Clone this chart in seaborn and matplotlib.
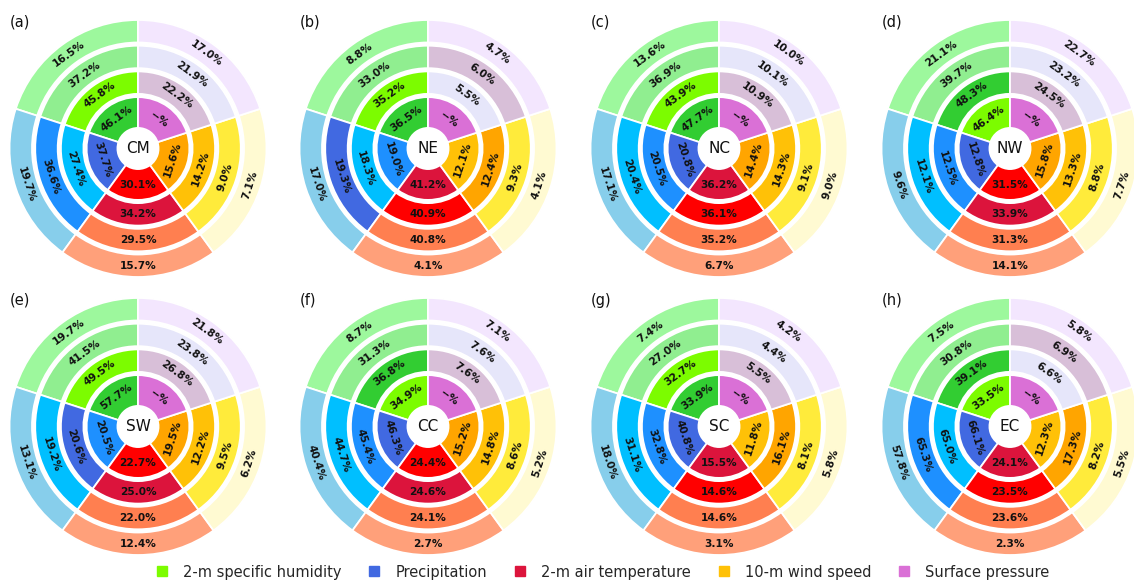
import numpy as np
import matplotlib
matplotlib.use("Agg")
import matplotlib.pyplot as plt
from matplotlib.lines import Line2D
import seaborn as sns

# ---------------- data (rings: innermost -> outermost) ----------------
regions = ["CM", "NE", "NC", "NW", "SW", "CC", "SC", "EC"]
letters = ["(a)", "(b)", "(c)", "(d)", "(e)", "(f)", "(g)", "(h)"]
variables = ["2-m specific humidity", "Precipitation", "2-m air temperature",
             "10-m wind speed", "Surface pressure"]

humidity = [[46.1, 45.8, 37.2, 16.5], [36.5, 35.2, 33.0, 8.8], [47.7, 43.9, 36.9, 13.6],
            [46.4, 48.3, 39.7, 21.1], [57.7, 49.5, 41.5, 19.7], [34.9, 36.8, 31.3, 8.7],
            [33.9, 32.7, 27.0, 7.4], [33.5, 39.1, 30.8, 7.5]]
precipitation = [[37.7, 27.4, 36.6, 19.7], [19.0, 18.3, 19.3, 17.0], [20.8, 20.5, 20.4, 17.1],
                 [12.8, 12.5, 12.1, 9.6], [20.5, 20.6, 19.2, 13.1], [46.3, 45.4, 44.7, 40.4],
                 [40.8, 32.8, 31.1, 18.0], [66.1, 65.0, 65.3, 57.8]]
temperature = [[30.1, 34.2, 29.5, 15.7], [41.2, 40.9, 40.8, 4.1], [36.2, 36.1, 35.2, 6.7],
               [31.5, 33.9, 31.3, 14.1], [22.7, 25.0, 22.0, 12.4], [24.4, 24.6, 24.1, 2.7],
               [15.5, 14.6, 14.6, 3.1], [24.1, 23.5, 23.6, 2.3]]
wind_speed = [[15.6, 14.2, 9.0, 7.1], [12.1, 12.4, 9.3, 4.1], [14.4, 14.3, 9.1, 9.0],
              [15.8, 13.3, 8.8, 7.7], [19.5, 12.2, 9.5, 6.2], [15.2, 14.8, 8.6, 5.2],
              [11.8, 16.1, 8.1, 5.8], [12.3, 17.3, 8.2, 5.5]]
pressure = [[np.nan, 22.2, 21.9, 17.0], [np.nan, 5.5, 6.0, 4.7], [np.nan, 10.9, 10.1, 10.0],
            [np.nan, 24.5, 23.2, 22.7], [np.nan, 26.8, 23.8, 21.8], [np.nan, 7.6, 7.6, 7.1],
            [np.nan, 5.5, 4.4, 4.2], [np.nan, 6.6, 6.9, 5.8]]

series = [humidity, precipitation, temperature, wind_speed, pressure]

# ---------------- styles ----------------
palettes = [
    ["#32CD32", "#7CFC00", "#90EE90", "#9DF89D"],
    ["#4169E1", "#1E90FF", "#00BFFF", "#87CEEB"],
    ["#DC143C", "#FF0000", "#FF7F50", "#FFA07A"],
    ["#FFA500", "#FFC107", "#FFEB3B", "#FFFAD2"],
    ["#DA70D6", "#D8BFD8", "#E6E6FA", "#F3E6FE"],
]
legend_colors = ["#7CFC00", "#4169E1", "#DC143C", "#FFC107", "#DA70D6"]
# shade order in the reference that does not follow the value ranking
shade_override = {("EC", 2): [0, 1, 2, 3]}

sns.set_theme(style="white")
plt.rcParams["font.family"] = ["DejaVu Sans"]

W, H = 1134, 586
fig = plt.figure(figsize=(W / 100, H / 100), dpi=100)

R_PX = 128.5
S_PX = 274.0
lim = S_PX / 2 / R_PX
centers_x = [138, 428, 719, 1010]
centers_y = [148.5, 426.5]
outer_r = [0.4, 0.6, 0.8, 1.0]
ring_widths = [0.24, 0.175, 0.175, 0.175]

for k, reg in enumerate(regions):
    row, col = divmod(k, 4)
    cx, cy = centers_x[col], centers_y[row]
    ax = fig.add_axes([(cx - S_PX / 2) / W, (H - cy - S_PX / 2) / H, S_PX / W, S_PX / H])

    # shade index of each ring for each variable
    shade = []
    for v in range(5):
        vals = np.array(series[v][k], dtype=float)
        vals = np.where(np.isnan(vals), np.inf, vals)
        order = np.argsort(-vals, kind="stable")
        idx = np.empty(4, dtype=int)
        idx[order] = np.arange(4)
        if (reg, v) in shade_override:
            idx = np.array(shade_override[(reg, v)])
        shade.append(idx)

    for ring in range(4):
        cols = [palettes[v][shade[v][ring]] for v in range(5)]
        ax.pie(np.ones(5), radius=outer_r[ring], startangle=90, counterclock=True,
               colors=cols,
               wedgeprops=dict(width=ring_widths[ring], edgecolor="white", linewidth=1.3))
        rmid = outer_r[ring] - ring_widths[ring] / 2 + (0.005 if ring == 0 else 0.0)
        for v in range(5):
            theta = 90 + 72 * v + 36
            rot = theta - 90
            rot = (rot + 180) % 360 - 180
            if rot > 90:
                rot -= 180
            elif rot < -90:
                rot += 180
            val = series[v][k][ring]
            lab = "--%" if np.isnan(val) else f"{val:.1f}%"
            t = np.deg2rad(theta)
            ax.text(rmid * np.cos(t), rmid * np.sin(t), lab, rotation=rot,
                    rotation_mode="anchor", ha="center", va="center",
                    fontsize=7.6, fontweight="bold", color="#111111")

    ax.set_xlim(-lim, lim)
    ax.set_ylim(-lim, lim)
    ax.set_aspect("equal")
    ax.axis("off")

    ax.text(0, 0, reg, ha="center", va="center", fontsize=11, color="#111111")
    fig.text((cx - R_PX) / W, (H - (cy - R_PX + 2)) / H, letters[k],
             ha="left", va="center", fontsize=10.5, color="#111111")

handles = [Line2D([], [], marker="s", linestyle="", markersize=6.5,
                  markerfacecolor=c, markeredgecolor=c) for c in legend_colors]
fig.legend(handles, variables, loc="center", ncol=5, frameon=False,
           bbox_to_anchor=(601 / W, 1 - 572 / H), fontsize=10.5,
           handlelength=1.3, handletextpad=0.8, columnspacing=1.6)

fig.savefig("out.png", dpi=100)
